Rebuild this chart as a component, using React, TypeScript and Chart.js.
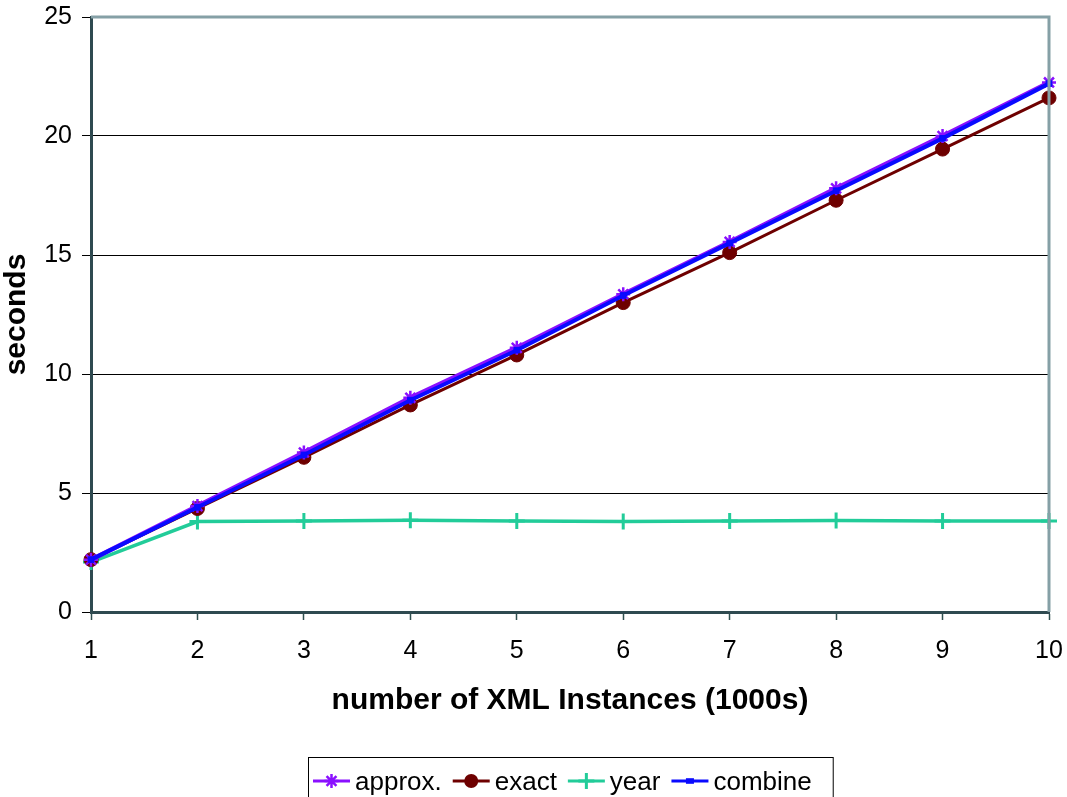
import React, { useEffect, useRef } from "react";
import { Chart, registerables } from "chart.js";

Chart.register(...registerables);

const xLabels = ["1", "2", "3", "4", "5", "6", "7", "8", "9", "10"];
const approxValues = [2.2, 4.45, 6.7, 9.0, 11.1, 13.35, 15.55, 17.8, 20.0, 22.25];
const exactValues = [2.2, 4.35, 6.5, 8.7, 10.8, 13.0, 15.1, 17.3, 19.45, 21.6];
const yearValues = [2.1, 3.8, 3.82, 3.85, 3.82, 3.8, 3.82, 3.84, 3.82, 3.82];
const combineValues = [2.2, 4.4, 6.6, 8.9, 11.0, 13.3, 15.5, 17.7, 19.9, 22.2];
const yTitle = "seconds";
const xTitle = "number of XML Instances (1000s)";

const FONT = "'Liberation Sans', Arial, sans-serif";

function drawMarker(ctx: CanvasRenderingContext2D, style: string, x: number, y: number, r: number, color: string, bw: number) {
  ctx.save();
  ctx.strokeStyle = color;
  ctx.fillStyle = color;
  ctx.lineWidth = bw;
  ctx.beginPath();
  if (style === "circle") {
    ctx.arc(x, y, r, 0, Math.PI * 2);
    ctx.fill();
  } else if (style === "rect") {
    ctx.fillRect(x - r, y - r * 0.7, r * 2, r * 1.4);
  } else if (style === "cross") {
    ctx.moveTo(x - r, y); ctx.lineTo(x + r, y);
    ctx.moveTo(x, y - r); ctx.lineTo(x, y + r);
    ctx.stroke();
  } else if (style === "star") {
    ctx.moveTo(x - r, y); ctx.lineTo(x + r, y);
    ctx.moveTo(x, y - r); ctx.lineTo(x, y + r);
    const d = r * 0.707;
    ctx.moveTo(x - d, y - d); ctx.lineTo(x + d, y + d);
    ctx.moveTo(x - d, y + d); ctx.lineTo(x + d, y - d);
    ctx.stroke();
  }
  ctx.restore();
}

const framePlugin = {
  id: "frame",
  afterDatasetsDraw(chart: any) {
    const { ctx, chartArea } = chart;
    ctx.save();
    ctx.strokeStyle = "#85A0A6";
    ctx.lineWidth = 3;
    ctx.beginPath();
    ctx.moveTo(chartArea.left, chartArea.top);
    ctx.lineTo(chartArea.right, chartArea.top);
    ctx.lineTo(chartArea.right, chartArea.bottom);
    ctx.stroke();
    ctx.restore();
  },
  afterDraw(chart: any) {
    const { ctx } = chart;
    ctx.save();
    ctx.font = "26px " + FONT;
    ctx.textBaseline = "alphabetic";
    ctx.textAlign = "left";
    const items = chart.data.datasets.map((ds: any) => ({
      label: ds.label,
      color: ds.borderColor,
      style: ds.pointStyle,
      r: ds.pointRadius,
      bw: ds.pointBorderWidth,
    }));
    const lineLen = 37;
    let x = 313;
    const cy = 781;
    const widths = items.map((it: any) => ctx.measureText(it.label).width);
    let total = 0;
    items.forEach((it: any, i: number) => { total += lineLen + 5 + widths[i] + (i < items.length - 1 ? 11 : 0); });
    const left = 308;
    ctx.strokeStyle = "#000";
    ctx.lineWidth = 1;
    ctx.strokeRect(left + 0.5, 757.5, total + 10 + 16, 60);
    items.forEach((it: any, i: number) => {
      ctx.strokeStyle = it.color;
      ctx.lineWidth = 3;
      ctx.beginPath();
      ctx.moveTo(x, cy);
      ctx.lineTo(x + lineLen, cy);
      ctx.stroke();
      drawMarker(ctx, it.style, x + lineLen / 2, cy, it.r, it.color, it.bw);
      ctx.fillStyle = "#000";
      ctx.fillText(it.label, x + lineLen + 5, 790);
      x += lineLen + 5 + widths[i] + 11;
    });
    ctx.restore();
  },
};

export default function App() {
  const ref = useRef<HTMLCanvasElement | null>(null);
  useEffect(() => {
    if (!ref.current) return;
    const chart = new Chart(ref.current, {
      type: "line",
      data: {
        labels: xLabels,
        datasets: [
          {
            label: "approx.",
            data: approxValues,
            borderColor: "#8A10FF",
            backgroundColor: "#8A10FF",
            borderWidth: 4.5,
            pointStyle: "star",
            pointRadius: 7,
            pointBorderWidth: 2.5,
            order: 1,
          },
          {
            label: "exact",
            data: exactValues,
            borderColor: "#6E0000",
            backgroundColor: "#6E0000",
            borderWidth: 3,
            pointStyle: "circle",
            pointRadius: 7,
            pointBorderWidth: 1,
            order: 2,
          },
          {
            label: "year",
            data: yearValues,
            borderColor: "#22CC99",
            backgroundColor: "#22CC99",
            borderWidth: 3.5,
            pointStyle: "cross",
            pointRadius: 8,
            pointBorderWidth: 3,
            order: 3,
          },
          {
            label: "combine",
            data: combineValues,
            borderColor: "#0A0AFF",
            backgroundColor: "#0A0AFF",
            borderWidth: 4,
            pointStyle: "rect",
            pointRadius: 4,
            pointBorderWidth: 1,
            order: 0,
          },
        ],
      },
      options: {
        animation: false,
        responsive: false,
        maintainAspectRatio: false,
        layout: { padding: { left: 0, right: 18, top: 17, bottom: 78 } },
        plugins: {
          legend: { display: false },
          tooltip: { enabled: false },
        },
        elements: { line: { tension: 0 } },
        scales: {
          x: {
            offset: false,
            afterFit: (s: any) => {
              s.height = 107;
              s.paddingLeft = 0;
              s.paddingRight = 0;
            },
            grid: {
              display: true,
              drawOnChartArea: false,
              drawTicks: true,
              tickLength: 8,
              tickColor: "#2F4F4F",
              tickWidth: 1.5,
            },
            border: { display: true, color: "#2F4A50", width: 3 },
            ticks: {
              color: "#000",
              font: { family: FONT, size: 25 },
              padding: 16,
              maxRotation: 0,
            },
            title: {
              display: true,
              text: xTitle,
              color: "#000",
              font: { family: FONT, size: 30, weight: "bold" },
              padding: 0,
            },
          },
          y: {
            min: 0,
            max: 25,
            afterFit: (s: any) => {
              s.width = 91;
              s.paddingTop = 0;
              s.paddingBottom = 0;
            },
            ticks: {
              stepSize: 5,
              color: "#000",
              font: { family: FONT, size: 25 },
              padding: 10,
            },
            grid: {
              color: (c: any) => (c.tick && (c.tick.value === 0 || c.tick.value === 25) ? "rgba(0,0,0,0)" : "#000"),
              lineWidth: 1,
              tickLength: 9,
              tickColor: "#000",
              tickWidth: 1,
            },
            border: { display: true, color: "#2F4A50", width: 3 },
            title: {
              display: true,
              text: yTitle,
              color: "#000",
              font: { family: FONT, size: 30, weight: "bold" },
              padding: { top: -1, bottom: 0 },
            },
          },
        },
      },
      plugins: [framePlugin],
    });
    return () => chart.destroy();
  }, []);
  return (
    <div style={{ position: "absolute", left: 0, top: 0, width: 1067, height: 797, background: "#fff" }}>
      <canvas ref={ref} width={1067} height={797} style={{ width: 1067, height: 797, display: "block" }} />
    </div>
  );
}
